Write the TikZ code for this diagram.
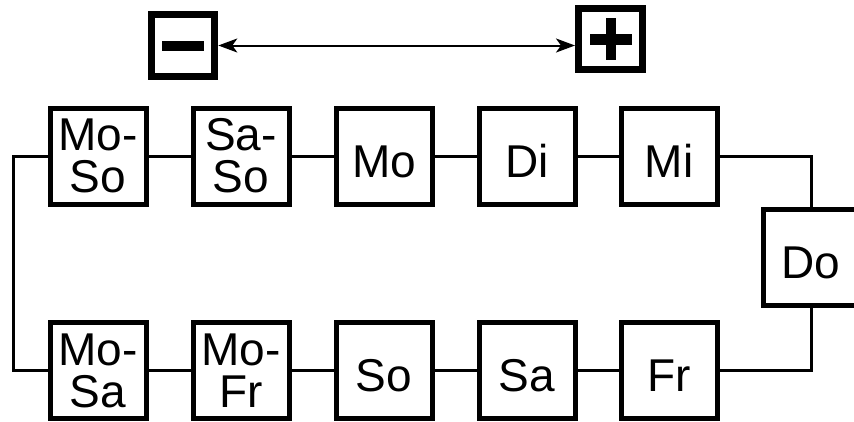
\documentclass[tikz,border=0pt]{standalone}
\usepackage{fontspec}
\setmainfont{Liberation Sans}
\usetikzlibrary{arrows.meta}
\begin{document}
\begin{tikzpicture}[x=1pt,y=-1pt,
  stage/.style={draw, line width=5pt, fill=white, minimum size=96pt, inner sep=0pt,
    font=\fontsize{46}{42}\selectfont, text height=42pt, text depth=0pt},
  pairstage/.style={draw, line width=5pt, fill=white, minimum size=96pt, inner sep=0pt,
    align=center, font=\fontsize{46}{42}\selectfont},
  link/.style={line width=3pt},
  signbox/.style={draw, line width=7pt, inner sep=0pt},
  signbar/.style={fill=black}]
\useasboundingbox (0,0) rectangle (854,421);

% scale from minus to plus
\node[signbox, minimum width=63pt, minimum height=62pt] (minus) at (183.3,45.5) {};
\node[signbox, minimum width=64pt, minimum height=61pt] (plus) at (610.5,39.2) {};
\fill[signbar] ([shift={(-21,-5)}]minus.center) rectangle ([shift={(21,5)}]minus.center);
\fill[signbar] ([shift={(-21,-5.5)}]plus.center) rectangle ([shift={(21,5.5)}]plus.center);
\fill[signbar] ([shift={(-5,-21)}]plus.center) rectangle ([shift={(5,21)}]plus.center);
\draw[line width=2pt, {Stealth[length=19pt,width=14pt,inset=5pt]}-{Stealth[length=19pt,width=14pt,inset=5pt]}]
  (minus.east) -- (minus.east -| plus.west);

% upper row
\node[pairstage] (moso) at (98,156) {Mo-\\So};
\node[pairstage] (saso) at (241,156) {Sa-\\So};
\node[stage] (mo) at (384,156) {Mo};
\node[stage] (di) at (527,156) {Di};
\node[stage] (mi) at (669,156) {Mi};

% right end
\node[stage] (do) at (811,257.8) {Do};

% lower row
\node[pairstage] (mosa) at (98,370.7) {Mo-\\Sa};
\node[pairstage] (mofr) at (241,370.7) {Mo-\\Fr};
\node[stage] (so) at (384,370.7) {So};
\node[stage] (sa) at (527,370.7) {Sa};
\node[stage] (fr) at (669,370.7) {Fr};

% connections
\draw[link] (moso) -- (saso);
\draw[link] (saso) -- (mo);
\draw[link] (mo) -- (di);
\draw[link] (di) -- (mi);
\draw[link] (mi.east) -| (do.north);
\draw[link] (do.south) |- (fr.east);
\draw[link] (fr) -- (sa);
\draw[link] (sa) -- (so);
\draw[link] (so) -- (mofr);
\draw[link] (mofr) -- (mosa);
\draw[link] (moso.west) -- ++(-34.5,0) |- (mosa.west);
\end{tikzpicture}
\end{document}
